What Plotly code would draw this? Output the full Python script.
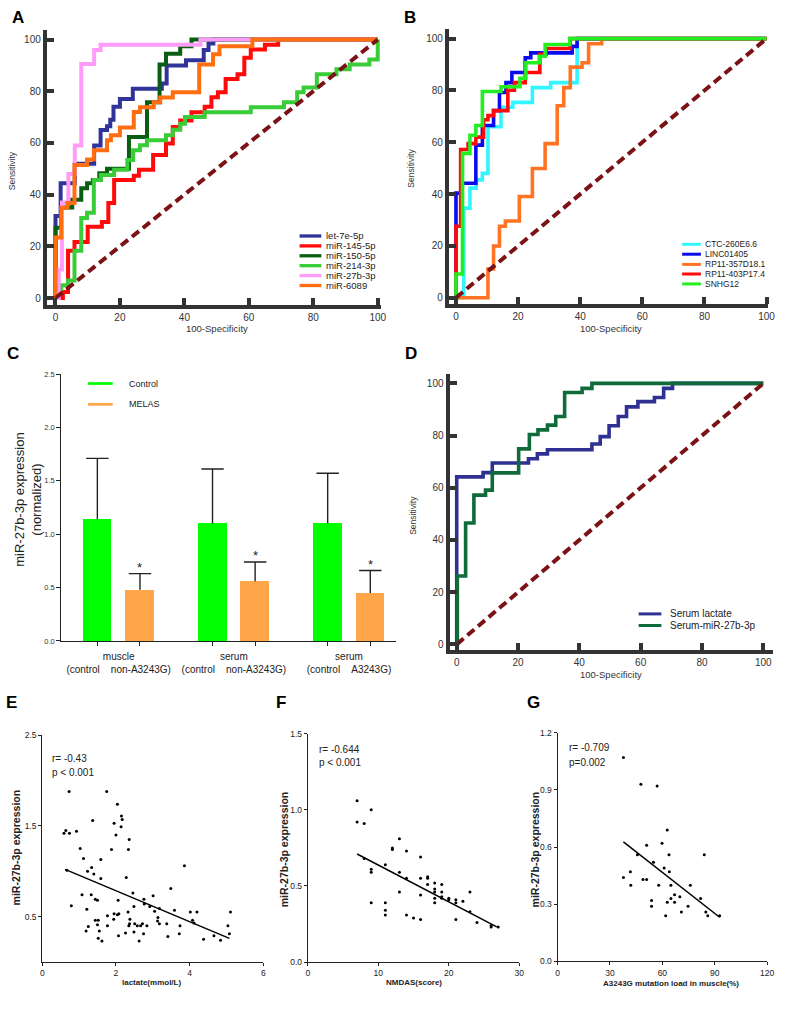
import plotly.graph_objects as go

W, H = 787, 1010

# ---------------- Panel A : miRNA ROC curves ----------------
a_names = ["let-7e-5p", "miR-145-5p", "miR-150-5p", "miR-214-3p", "miR-27b-3p", "miR-6089"]
a_colors = ["#30339a", "#ff0a0a", "#0a5e12", "#38cc38", "#ff9cfa", "#ff6e10"]
a_let7e_x = [0, 0, 1.6, 6, 12, 14, 16, 17, 18, 20, 24, 33, 34.5, 40.5, 46, 47.5, 49, 100]
a_let7e_y = [0, 31.7, 44.4, 52, 59, 65, 66.5, 69, 74, 77, 81, 83, 90, 92, 96, 98.5, 100, 100]
a_mir145_x = [0, 2.3, 3.9, 5.9, 10, 14.4, 16.4, 18.2, 24.3, 25.9, 30.3, 34.3, 36.4, 38.7, 42.2, 46.3,
              48.4, 50.4, 52.8, 56.5, 58.6, 60.6, 65, 69.1, 100]
a_mir145_y = [0, 2.3, 18.3, 21.7, 27.6, 29.4, 36.8, 45.7, 47.3, 49.6, 55.3, 59.8, 66.2, 68.7, 71.9, 74,
              77.7, 79.6, 84.7, 86.6, 93, 96.2, 98, 100, 100]
a_mir150_x = [0, 0, 1.8, 5.2, 8, 9.8, 11.6, 13.6, 16, 22.8, 28.4, 32.3, 34.3, 38.7, 42.2, 100]
a_mir150_y = [0, 27.2, 35, 38, 42.5, 44.4, 45.7, 48.3, 50, 62.3, 75.7, 90.4, 94.5, 97.4, 100, 100]
a_mir214_x = [0, 0, 1.8, 3.9, 5.9, 8, 9.8, 11.9, 14.1, 18.2, 22.3, 24.1, 26.2, 28.4, 34.3, 36.4, 38.7,
              40.2, 46.3, 60.6, 70.9, 75, 77, 81.1, 87.2, 91.3, 97.4, 100]
a_mir214_y = [0, 3.6, 4.9, 6.8, 18.3, 31, 33, 45.7, 47.6, 49.6, 53.4, 57.2, 59.1, 61, 63, 65.1, 67.4,
              70, 71.9, 73.8, 75.7, 79.6, 81.5, 86.6, 88.5, 90.4, 92.3, 100]
a_mir27b_x = [0, 1, 2, 4, 6, 8, 12, 14, 45, 100]
a_mir27b_y = [0, 11, 37, 48, 59, 90.5, 96, 98, 100, 100]
a_mir6089_x = [0, 0, 1.8, 3.7, 5.9, 9.8, 11.9, 16, 17.2, 20, 24.3, 26.2, 30.5, 32.5, 36.4, 44.6, 48.9,
               50.9, 61.1, 100]
a_mir6089_y = [0, 23.4, 34.9, 36.8, 51.5, 53.6, 57.2, 61, 63, 66, 72, 73.8, 75.7, 77.6, 79.6, 90.4, 94.3,
               97.4, 100, 100]

# ---------------- Panel B : lncRNA ROC curves ----------------
b_names = ["CTC-260E6.6", "LINC01405", "RP11-357D18.1", "RP11-403P17.4", "SNHG12"]
b_colors = ["#33f5ff", "#0a0af0", "#ff7424", "#ff0a0a", "#22ee22"]
b_ctc_x = [0, 2.5, 4.5, 6.5, 8.5, 10.3, 14.5, 18.3, 24.6, 30.5, 39, 39, 100]
b_ctc_y = [0, 34.6, 42.3, 45.5, 48, 66, 73.5, 75.4, 81.1, 83, 89.5, 100, 100]
b_linc_x = [0, 0, 2, 6.4, 8.5, 12.1, 14, 16.1, 18, 22.3, 24.1, 37.4, 39, 100]
b_linc_y = [0, 40.4, 44.2, 58.9, 66.5, 72.2, 79.2, 83, 86.9, 92.6, 94.5, 97, 100, 100]
b_rp357_x = [0, 10.3, 12.1, 14, 15.9, 20.4, 24.6, 28.7, 32.6, 34.7, 36.8, 40.6, 42.7, 46.9, 100]
b_rp357_y = [0, 11.1, 20, 27.6, 29.6, 39.1, 49.9, 59.5, 74.1, 81.1, 89, 90.7, 98, 100, 100]
b_rp403_x = [0, 0, 1.5, 3.9, 6.4, 8.9, 10.3, 12.1, 16.7, 18.8, 22.3, 27, 29, 36.8, 100]
b_rp403_y = [0, 27.6, 57.2, 59.5, 62, 68.7, 70.3, 72.2, 80.1, 83, 86.9, 93.9, 96.2, 100, 100]
b_snhg_x = [0, 0, 2.1, 4.5, 6.4, 8.5, 14.5, 20.6, 22.5, 26.8, 28.7, 36.6, 100]
b_snhg_y = [0, 9.2, 55.7, 62.7, 66.5, 79.6, 81.4, 84.7, 90.7, 93.2, 97.7, 100, 100]

# ---------------- Panel C : bar chart ----------------
c_groups = ["muscle", "serum", "serum"]
c_sub = [("(control", "non-A3243G)"), ("(control", "non-A3243G)"), ("(control", "A3243G)")]
c_control = [1.14, 1.10, 1.10]
c_control_sd = [0.57, 0.51, 0.47]
c_melas = [0.48, 0.56, 0.45]
c_melas_sd = [0.15, 0.18, 0.21]
c_series = ["Control", "MELAS"]
c_colors = ["#00ff00", "#ffa54a"]

# ---------------- Panel D : serum ROC ----------------
d_names = ["Serum lactate", "Serum-miR-27b-3p"]
d_colors = ["#2e3192", "#0f6b3a"]
d_lact_x = [0, 0, 3.2, 8.6, 11.6, 23.4, 26.3, 29.6, 44.1, 46.8, 49.7, 52.7, 55.4, 59.1, 64.5, 67.5, 70.4, 100]
d_lact_y = [0, 64.2, 64.2, 65.8, 69.5, 71.1, 73, 74.6, 76.8, 79.6, 83.8, 87.3, 91, 93, 94.6, 98.1, 100, 100]
d_mir_x = [0, 0.2, 2.9, 5.6, 9.4, 11.6, 20.2, 23.7, 26.5, 29.6, 32.3, 35.2, 40.9, 44.1, 100]
d_mir_y = [0, 26.2, 46.5, 57.2, 59.1, 65.7, 74.9, 80.4, 82.2, 84, 87.3, 96.5, 98.1, 100, 100]

diag_x = [0, 100]
diag_y = [0, 100]

# ---------------- Panel E ----------------
e_lactate = [0.59, 0.64, 0.74, 0.67, 0.79, 0.73, 0.93, 1.03, 1.12, 1.08, 1.23, 1.21, 1.19, 1.25, 1.34, 1.33,
             1.37, 1.40, 1.44, 1.50, 1.44, 1.52, 1.50, 1.55, 1.52, 1.62, 1.59, 1.59, 1.75, 1.77, 1.77, 1.88,
             1.95, 2.00, 1.95, 1.94, 2.04, 2.06, 2.04, 2.08, 2.07, 2.15, 2.17, 2.14, 2.28, 2.26, 2.33, 2.36,
             2.34, 2.37, 2.35, 2.38, 2.46, 2.49, 2.51, 2.49, 2.58, 2.63, 2.67, 2.72, 2.75, 2.76, 2.77, 2.84,
             2.92, 3.01, 3.05, 3.14, 3.13, 3.18, 3.18, 3.38, 3.41, 3.49, 3.59, 3.72, 3.74, 3.86, 4.02, 4.08,
             4.12, 4.20, 4.38, 4.66, 4.84, 5.04, 5.08, 5.11]
e_mir = [1.42, 1.45, 1.42, 1.01, 0.62, 1.88, 1.44, 1.25, 1.14, 0.74, 1.00, 0.58, 0.34, 0.39, 1.04, 0.74,
         1.56, 0.97, 0.69, 0.68, 0.46, 0.46, 0.41, 0.34, 0.26, 0.23, 1.13, 0.92, 1.88, 0.40, 0.51, 1.24,
         1.53, 1.40, 0.53, 0.47, 1.74, 0.68, 0.52, 0.53, 0.29, 1.61, 1.57, 1.49, 0.93, 0.32, 0.55, 1.35,
         1.24, 0.42, 0.40, 0.47, 0.76, 0.61, 0.42, 0.33, 0.40, 0.23, 0.40, 0.42, 0.31, 0.69, 0.64, 0.40,
         0.61, 0.73, 0.56, 0.49, 0.45, 0.42, 0.59, 0.42, 0.28, 0.81, 0.57, 0.31, 0.40, 1.06, 0.55, 0.46,
         0.43, 0.55, 0.25, 0.29, 0.24, 0.40, 0.31, 0.55]
e_fit_x = [0.62, 5.08]
e_fit_y = [1.02, 0.26]

# ---------------- Panel F ----------------
f_nmdas = [7, 7, 8, 9, 8, 9, 9, 9, 11, 11, 11, 11, 12, 12, 13, 13, 13, 14, 14, 14, 15, 16, 16, 16, 16,
           17, 17, 17, 18, 18, 18, 18, 18, 19, 19, 19, 19, 20, 20, 21, 21, 21, 22, 23, 23, 24, 26, 26, 27]
f_mir = [1.06, 0.92, 0.91, 1.00, 0.68, 0.61, 0.59, 0.39, 0.64, 0.39, 0.34, 0.31, 0.75, 0.74, 0.81, 0.59,
         0.46, 0.73, 0.55, 0.31, 0.29, 0.69, 0.55, 0.44, 0.28, 0.56, 0.55, 0.51, 0.52, 0.48, 0.46, 0.42,
         0.39, 0.51, 0.46, 0.43, 0.42, 0.42, 0.41, 0.41, 0.39, 0.28, 0.40, 0.46, 0.33, 0.26, 0.24, 0.23, 0.23]
f_fit_x = [7, 26.8]
f_fit_y = [0.71, 0.232]

# ---------------- Panel G ----------------
g_load = [37.7, 37.7, 41.7, 41.9, 47.7, 45.7, 48.9, 51, 51, 53.8, 53.8, 54.9, 57, 57.9, 59.8, 61, 61.9,
          62.8, 62.8, 63.8, 64, 64.9, 64.9, 67, 67, 70, 70.9, 74.7, 76, 81.9, 84, 84.9, 86, 92.8]
g_mir = [1.07, 0.44, 0.47, 0.40, 0.93, 0.56, 0.43, 0.43, 0.61, 0.32, 0.29, 0.52, 0.92, 0.40, 0.62, 0.49,
         0.24, 0.69, 0.31, 0.56, 0.47, 0.40, 0.33, 0.31, 0.35, 0.34, 0.26, 0.29, 0.40, 0.33, 0.56, 0.26,
         0.24, 0.24]
g_fit_x = [37.7, 92.8]
g_fit_y = [0.627, 0.232]

# =====================================================================
ARIAL = "Arial, Liberation Sans, Helvetica, sans-serif"
NARROW = "Liberation Sans Narrow, Arial Narrow, Liberation Sans, Arial, sans-serif"
AX = "#333333"


def fx(p):
    return p / W


def fy(p):
    return 1 - p / H


fig = go.Figure()


def roc(xs, ys, color, xa, ya, width=4):
    fig.add_trace(go.Scatter(x=xs, y=ys, mode="lines", xaxis=xa, yaxis=ya, showlegend=False,
                             line=dict(color=color, width=width, shape="hv")))


def diag(xa, ya):
    fig.add_trace(go.Scatter(x=diag_x, y=diag_y, mode="lines", xaxis=xa, yaxis=ya, showlegend=False,
                             line=dict(color="#7a1216", width=4, dash="9px,5px")))


# Panel A
a_curves = [(a_let7e_x, a_let7e_y), (a_mir145_x, a_mir145_y), (a_mir150_x, a_mir150_y),
            (a_mir214_x, a_mir214_y), (a_mir27b_x, a_mir27b_y), (a_mir6089_x, a_mir6089_y)]
for (xs, ys), col in zip(a_curves, a_colors):
    roc(xs, ys, col, "x", "y")
diag("x", "y")

# Panel B
b_curves = [(b_ctc_x, b_ctc_y), (b_linc_x, b_linc_y), (b_rp357_x, b_rp357_y),
            (b_rp403_x, b_rp403_y), (b_snhg_x, b_snhg_y)]
for (xs, ys), col in zip(b_curves, b_colors):
    roc(xs, ys, col, "x2", "y2", width=3.6)
diag("x2", "y2")

# Panel D
for (xs, ys), col in zip([(d_lact_x, d_lact_y), (d_mir_x, d_mir_y)], d_colors):
    roc(xs, ys, col, "x4", "y4", width=3.6)
diag("x4", "y4")

# Panel C bars
pos = list(range(len(c_groups)))
half_sep, bar_w = 0.185, 0.25
for vals, sds, col, sgn in [(c_control, c_control_sd, c_colors[0], -1), (c_melas, c_melas_sd, c_colors[1], 1)]:
    fig.add_trace(go.Bar(x=pos, y=vals, width=bar_w, offset=sgn * half_sep - bar_w / 2,
                         marker=dict(color=col, line=dict(width=0)), xaxis="x3", yaxis="y3",
                         showlegend=False))
    centers = [p + sgn * half_sep for p in pos]
    tops = [v + s for v, s in zip(vals, sds)]
    fig.add_trace(go.Scatter(x=centers, y=tops, mode="markers", xaxis="x3", yaxis="y3", showlegend=False,
                             marker=dict(symbol="line-ew", size=16, line=dict(color="#222", width=1.4)),
                             error_y=dict(type="data", symmetric=False, array=[0] * len(sds),
                                          arrayminus=sds, width=0, thickness=1.4, color="#222")))

# Panels E, F, G
for xs, ys, fx_, fy_, xa, ya in [(e_lactate, e_mir, e_fit_x, e_fit_y, "x5", "y5"),
                                 (f_nmdas, f_mir, f_fit_x, f_fit_y, "x6", "y6"),
                                 (g_load, g_mir, g_fit_x, g_fit_y, "x7", "y7")]:
    fig.add_trace(go.Scatter(x=xs, y=ys, mode="markers", xaxis=xa, yaxis=ya, showlegend=False,
                             marker=dict(color="black", size=3)))
    fig.add_trace(go.Scatter(x=fx_, y=fy_, mode="lines", xaxis=xa, yaxis=ya, showlegend=False,
                             line=dict(color="black", width=1.5)))


# ---------------- axes ----------------
def xdom(l, r):
    return [fx(l), fx(r)]


def ydom(b, t):
    return [fy(b), fy(t)]


roc_ticks = [0, 20, 40, 60, 80, 100]


def roc_axis(dom, rng, anchor):
    return dict(domain=dom, range=rng, anchor=anchor, showline=True, linewidth=4, linecolor=AX,
                ticks="inside", ticklen=7, tickwidth=3.5, tickcolor=AX, tickvals=roc_ticks,
                showgrid=False, zeroline=False, tickfont=dict(family=ARIAL, size=10, color=AX))


def thin_axis(dom, rng, anchor, tickvals, fmt, font):
    return dict(domain=dom, range=rng, anchor=anchor, showline=True, linewidth=1.1, linecolor="#222",
                ticks="outside", ticklen=3, tickwidth=1, tickcolor="#222", tickvals=tickvals,
                tickformat=fmt, showgrid=False, zeroline=False, tickfont=font)


lay = dict(width=W, height=H, margin=dict(l=0, r=0, t=0, b=0), plot_bgcolor="white",
           paper_bgcolor="white", showlegend=False, bargap=0)

lay["xaxis"] = roc_axis(xdom(45.3, 383), [-2.7, 100.9], "y")
lay["yaxis"] = roc_axis(ydom(303, 25), [-2.7, 103.8], "x")
lay["xaxis2"] = roc_axis(xdom(452, 775), [-2.3, 100.5], "y2")
lay["yaxis2"] = roc_axis(ydom(302, 24), [-2.4, 103.8], "x2")
lay["xaxis4"] = roc_axis(xdom(452.7, 780), [-2.35, 103.2], "y4")
lay["yaxis4"] = roc_axis(ydom(651.3, 372.7), [-2.1, 103.6], "x4")

c_ticktext = [g + "<br>" + s[0] + "\u00a0\u00a0\u00a0\u00a0" + s[1] for g, s in zip(c_groups, c_sub)]
c_minor = sorted([p - half_sep for p in pos] + [p + half_sep for p in pos])
lay["xaxis3"] = dict(domain=xdom(60, 399), range=[-0.498, 2.412], anchor="y3", showline=True,
                     linewidth=1.3, linecolor="#222", tickvals=pos, ticktext=c_ticktext, ticks="",
                     ticklabelstandoff=6,
                     minor=dict(tickvals=c_minor, ticks="outside", ticklen=4, tickwidth=1.2, tickcolor="#222"),
                     showgrid=False, zeroline=False, tickfont=dict(family=ARIAL, size=10, color="#222"))
lay["yaxis3"] = dict(domain=ydom(642.3, 372.7), range=[0, 2.5], anchor="x3", showline=True, linewidth=1.3,
                     linecolor="#222", tickvals=[0, 0.5, 1, 1.5, 2, 2.5], tickformat=".1f", ticks="outside",
                     ticklen=4, tickwidth=1.2, tickcolor="#222", showgrid=False, zeroline=False,
                     tickfont=dict(family=ARIAL, size=7.5, color="#333"))

nfont = dict(family=NARROW, size=8.5, color="#222")
lay["xaxis5"] = thin_axis(xdom(40.7, 264.3), [0, 6], "y5", [0, 2, 4, 6], "d", nfont)
lay["yaxis5"] = thin_axis(ydom(966.5, 737.5), [0, 2.5], "x5", [0.5, 1.5, 2.5], ".1f", nfont)
lay["xaxis6"] = thin_axis(xdom(309.3, 523.3), [0, 30], "y6", [0, 10, 20, 30], "d", nfont)
lay["yaxis6"] = thin_axis(ydom(966.7, 736), [0, 1.5], "x6", [0, 0.5, 1.0, 1.5], ".1f", nfont)
lay["xaxis7"] = thin_axis(xdom(562, 774), [0, 120], "y7", [0, 30, 60, 90, 120], "d", nfont)
lay["yaxis7"] = thin_axis(ydom(966, 735), [0, 1.2], "x7", [0, 0.3, 0.6, 0.9, 1.2], ".1f", nfont)

fig.update_layout(**lay)

# ---------------- annotations & legend shapes ----------------
ann = []
shapes = []


def text(x, y, s, size, family=ARIAL, color="#222", angle=0, xanchor="center", bold=False):
    if bold:
        s = "<b>" + s + "</b>"
    ann.append(dict(x=fx(x), y=fy(y), xref="paper", yref="paper", text=s, showarrow=False,
                    xanchor=xanchor, yanchor="middle", textangle=angle,
                    font=dict(family=family, size=size, color=color)))


def legend(rows, x0, x1, tx, names, colors, lw, size, family=ARIAL):
    for yy, nm, col in zip(rows, names, colors):
        shapes.append(dict(type="line", xref="paper", yref="paper", x0=fx(x0), x1=fx(x1),
                           y0=fy(yy), y1=fy(yy), line=dict(color=col, width=lw)))
        text(tx, yy, nm, size, family=family, xanchor="left")


# panel letters
for lab, (x, y) in {"A": (16, 13), "B": (413, 12.5), "C": (11, 351.5), "D": (413.5, 351.5),
                    "E": (10, 704), "F": (282, 704), "G": (537.5, 704)}.items():
    text(x, y, lab, 17, color="black", bold=True)

# ROC axis titles
text(10, 167, "Sensitivity", 8.5, color=AX, angle=-90)
text(217, 327, "100-Specificity", 9.5, color=AX)
text(414, 165, "Sensitivity", 8.5, color=AX, angle=-90)
text(616, 327, "100-Specificity", 9.5, color=AX)
text(415.7, 515, "Sensitivity", 8.5, color=AX, angle=-90)
text(616, 676, "100-Specificity", 9.5, color=AX)

legend([233.3, 243.3, 253.3, 263.3, 273.3, 283.3], 301, 323, 326, a_names, a_colors, 3.3, 9.5)
legend([241.7, 251.7, 262.0, 271.7, 281.7], 688, 707, 709, b_names, b_colors, 3, 8.5)
legend([615, 626.7], 644, 667, 674, d_names, d_colors, 3, 10)
legend([382.3, 403.3], 87, 112, 126, c_series, c_colors, 2.7, 9)

# Panel C y title
text(26, 500, "miR-27b-3p expression<br>(normalized)", 13, color="#222", angle=-90)
# asterisks
for p, v, s in zip(pos, c_melas, c_melas_sd):
    ann.append(dict(x=p + half_sep, y=v + s, xref="x3", yref="y3", text="*", showarrow=False,
                    yanchor="middle", yshift=6, font=dict(family=ARIAL, size=13, color="#222")))

# E/F/G titles and stats
text(14, 851, "miR-27b-3p expression", 10.5, color="#222", angle=-90, bold=True)
text(285, 853, "miR-27b-3p expression", 10.5, color="#222", angle=-90, bold=True)
text(539, 853, "miR-27b-3p expression", 10.5, color="#222", angle=-90, bold=True)
text(151.7, 987, "lactate(mmol/L)", 8, family=NARROW, bold=True)
text(416.7, 987, "NMDAS(score)", 8, family=NARROW, bold=True)
text(676.7, 988, "A3243G mutation load in muscle(%)", 8, family=NARROW, bold=True)

text(49, 761, "r= -0.43", 10, family=NARROW, xanchor="left")
text(49, 775, "p < 0.001", 10, family=NARROW, xanchor="left")
text(318.5, 751.5, "r= -0.644", 10, family=NARROW, xanchor="left")
text(318.5, 765.5, "p < 0.001", 10, family=NARROW, xanchor="left")
text(572, 750, "r= -0.709", 10, family=NARROW, xanchor="left")
text(572, 765.5, "p=0.002", 10, family=NARROW, xanchor="left")

fig.update_layout(annotations=ann, shapes=shapes)
fig.write_html("out.html", config={"displayModeBar": False},
               post_script="document.body.style.margin='0px';")
